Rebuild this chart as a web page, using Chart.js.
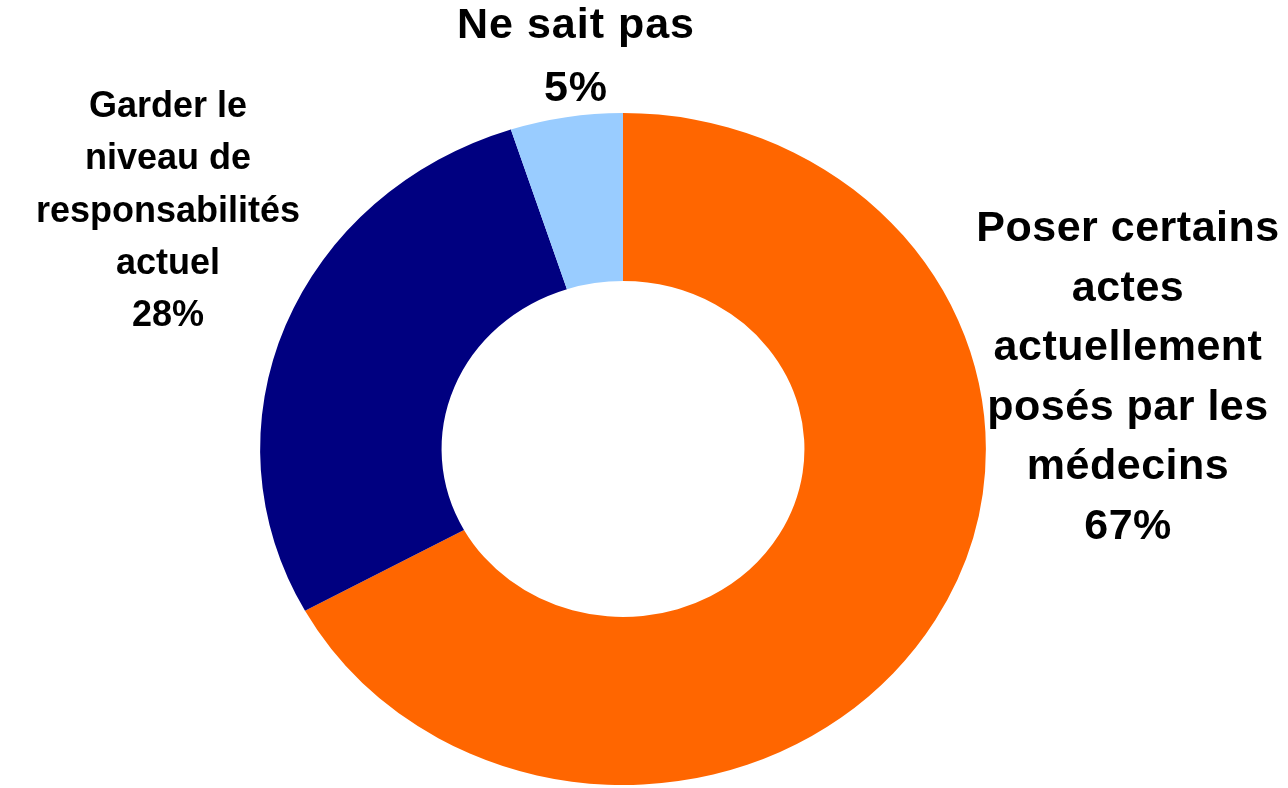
<!DOCTYPE html>
<html>
<head>
<meta charset="utf-8">
<script src="https://cdn.jsdelivr.net/npm/chart.js@4"></script>
<style>
body{margin:0;background:#fff;}
#wrap{width:1288px;height:788px;position:relative;}
</style>
</head>
<body>
<div id="wrap"><canvas id="donut"></canvas></div>
<script>

// Data

const categories = [
"Poser certains actes actuellement posés par les médecins",
"Garder le niveau de responsabilités actuel",
"Ne sait pas"
];

const values = [67, 28, 5];

const labelLines = [
["Poser certains","actes","actuellement","posés par les","médecins"],
["Garder le","niveau de","responsabilités","actuel"],
["Ne sait pas"]
];

const colors = ["#FF6600","#000080","#99CCFF"];

// Label placement (text only)

const labelPos = [
{x:1128, y:241, step:59.5, size:43, sp:"0.5px"},
{x:168, y:117, step:52.3, size:36, sp:"0px"},
{x:576, y:38, step:63, size:43, sp:"1px"}
];

// stretch the ring a bit wider than tall, like the original

const stretch = {
id:"stretch",
beforeDatasetsDraw(chart){
const meta = chart.getDatasetMeta(0);
const cx = meta.data[0].x;
const ctx = chart.ctx;
ctx.save();
ctx.translate(cx,0);
ctx.scale(1.08,1);
ctx.translate(-cx,0);
},
afterDatasetsDraw(chart){
chart.ctx.restore();
}
};

const textLabels = {
id:"textLabels",
afterDraw(chart){
const ctx = chart.ctx;
ctx.save();
ctx.fillStyle = "#000";
ctx.textAlign = "center";
ctx.textBaseline = "alphabetic";
for(let i=0;i<categories.length;i++){
const p = labelPos[i];
ctx.font = "bold " + p.size + "px 'Liberation Sans', Arial, sans-serif";
ctx.letterSpacing = p.sp;
const lines = labelLines[i].concat([values[i] + "%"]);
for(let j=0;j<lines.length;j++){
ctx.fillText(lines[j], p.x, p.y + j*p.step);
}
}
ctx.restore();
}
};

new Chart(
document.getElementById("donut"),
{
type:"doughnut",
data:{
labels:categories,
datasets:[{
data:values,
backgroundColor:colors,
borderWidth:0
}]
},
options:{
responsive:true,
maintainAspectRatio:false,
animation:false,
cutout:"50%",
layout:{padding:{left:287,right:329,top:113,bottom:3}},
plugins:{
legend:{display:false},
tooltip:{enabled:false}
}
},
plugins:[stretch,textLabels]
}
);

</script>
</body>
</html>
